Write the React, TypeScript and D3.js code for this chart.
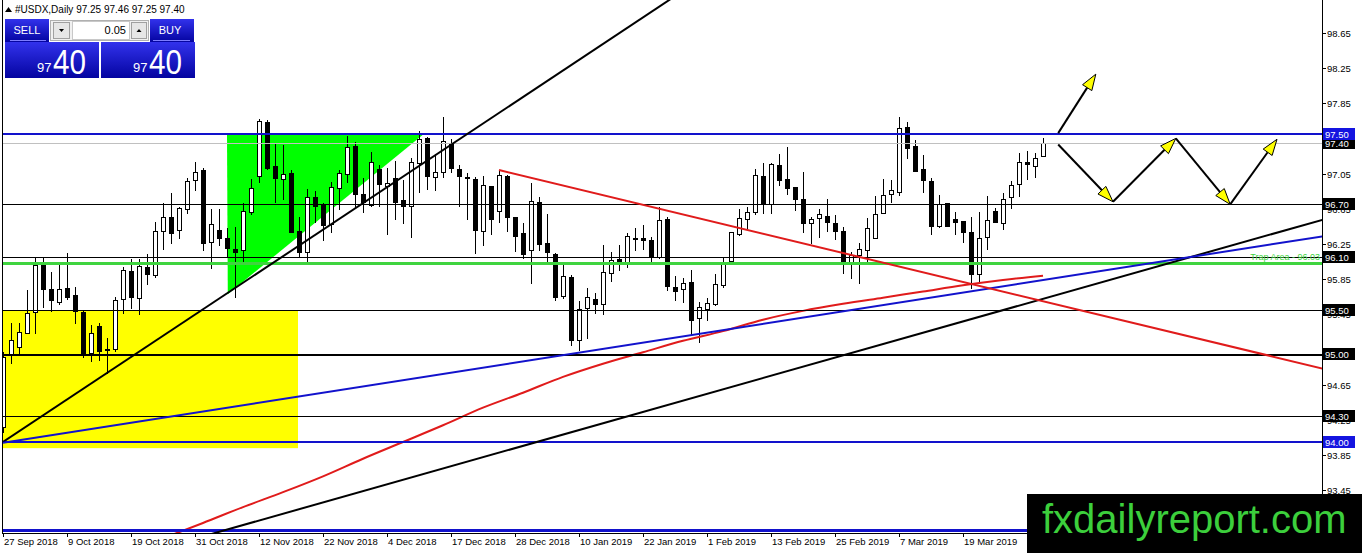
import React from "react";
import * as d3 from "d3";

// ---- data ----
const open = [
  94.17, 94.99, 95.08, 95.24, 95.48, 96.01, 95.74, 95.59, 95.75, 95.67,
  95.48, 95.01, 95.32, 95.06, 95.06, 95.63, 95.94, 95.64, 95.99, 95.9,
  96.4, 96.56, 96.41, 96.65, 96.98, 97.09, 96.27, 96.41, 96.32, 96.19,
  96.18, 96.61, 97.02, 97.64, 97.14, 96.99, 97.06, 96.4, 96.16, 96.78,
  96.7, 96.48, 96.89, 97.05, 97.36, 96.82, 96.69, 97.1, 96.91, 97.0,
  96.75, 96.68, 97.17, 97.45, 97.01, 97.07, 97.4, 97.1, 97.01, 96.99,
  96.4, 96.91, 96.63, 97.02, 96.56, 96.38, 96.18, 96.73, 96.26, 96.14,
  95.66, 95.88, 95.16, 95.52, 95.63, 95.57, 95.92, 96.08, 96.05, 96.32,
  96.32, 96.3, 96.1, 96.53, 95.76, 95.74, 95.82, 95.41, 95.51, 95.57,
  95.78, 96.06, 96.36, 96.53, 96.61, 97.02, 96.7, 97.15, 96.99, 96.9,
  96.76, 96.49, 96.55, 96.57, 96.49, 96.4, 96.03, 96.13, 96.18, 96.32,
  96.6, 96.82, 96.84, 97.58, 97.36, 97.1, 96.97, 96.45, 96.72, 96.53,
  96.51, 96.39, 95.91, 96.33, 96.63, 96.49, 96.78, 96.93, 97.18, 97.14,
  97.25,
];
const high = [
  95.02, 95.35, 95.35, 95.73, 96.09, 96.1, 95.93, 96.01, 96.15, 95.76,
  95.49, 95.33, 95.35, 95.18, 95.65, 95.99, 96.08, 96.08, 96.14, 96.5,
  96.72, 96.83, 96.67, 97.0, 97.18, 97.11, 96.65, 96.65, 96.43, 96.44,
  96.72, 96.99, 97.67, 97.66, 97.39, 97.37, 97.09, 96.56, 96.88, 96.85,
  96.72, 96.95, 97.09, 97.48, 97.41, 97.0, 97.3, 97.15, 97.11, 97.19,
  96.98, 97.23, 97.53, 97.47, 97.27, 97.69, 97.44, 97.15, 97.06, 97.01,
  97.02, 96.91, 97.09, 97.03, 96.56, 96.49, 96.94, 96.78, 96.59, 96.15,
  96.01, 95.9, 95.6, 95.75, 95.69, 96.24, 96.16, 96.24, 96.37, 96.43,
  96.47, 96.33, 96.67, 96.56, 95.89, 95.86, 95.95, 95.59, 95.64, 95.91,
  96.1, 96.39, 96.65, 96.67, 97.1, 97.17, 97.17, 97.27, 97.35, 96.9,
  97.07, 96.56, 96.65, 96.76, 96.58, 96.44, 96.16, 96.26, 96.55, 96.8,
  96.99, 96.98, 97.69, 97.64, 97.43, 97.26, 97.0, 96.81, 96.72, 96.61,
  96.51, 96.56, 96.61, 96.8, 96.66, 96.83, 96.97, 97.28, 97.31, 97.28,
  97.46,
];
const low = [
  94.11, 94.9, 95.01, 95.24, 95.24, 95.53, 95.49, 95.57, 95.63, 95.35,
  94.97, 94.92, 94.93, 94.78, 95.03, 95.47, 95.52, 95.45, 95.8, 95.87,
  96.19, 96.26, 96.32, 96.6, 96.86, 96.18, 95.98, 96.24, 96.1, 95.65,
  96.05, 96.59, 96.95, 97.1, 96.73, 96.76, 96.39, 96.1, 96.05, 96.5,
  96.3, 96.39, 96.65, 96.95, 96.66, 96.61, 96.68, 96.68, 96.36, 96.53,
  96.49, 96.33, 96.84, 96.87, 96.86, 97.01, 97.07, 96.68, 96.53, 96.15,
  96.24, 96.36, 96.5, 96.4, 96.17, 96.09, 95.81, 96.18, 96.05, 95.61,
  95.64, 95.1, 95.05, 95.18, 95.47, 95.45, 95.83, 95.95, 95.99, 96.18,
  96.19, 96.03, 96.09, 95.73, 95.61, 95.59, 95.23, 95.14, 95.39, 95.56,
  95.76, 96.03, 96.35, 96.43, 96.59, 96.6, 96.6, 96.92, 96.82, 96.64,
  96.39, 96.26, 96.33, 96.4, 96.31, 95.92, 95.86, 95.81, 96.05, 96.32,
  96.6, 96.73, 96.81, 97.23, 97.08, 96.84, 96.36, 96.44, 96.45, 96.36,
  96.27, 95.75, 95.81, 96.19, 96.5, 96.42, 96.66, 96.8, 96.99, 97.01,
  97.25,
];
const close = [
  94.97, 95.16, 95.25, 95.47, 96.01, 95.74, 95.61, 95.74, 95.65, 95.49,
  94.99, 95.24, 95.03, 95.05, 95.61, 95.95, 95.65, 96.0, 95.91, 96.4,
  96.56, 96.38, 96.66, 96.97, 97.07, 96.26, 96.48, 96.32, 96.2, 96.16,
  96.63, 96.89, 97.65, 97.11, 97.0, 97.05, 96.39, 96.16, 96.78, 96.68,
  96.47, 96.9, 97.06, 97.35, 96.82, 96.73, 97.18, 96.93, 96.94, 96.73,
  96.68, 97.18, 97.44, 97.02, 97.07, 97.42, 97.11, 97.02, 97.0, 96.41,
  96.92, 96.53, 97.03, 96.56, 96.34, 96.14, 96.74, 96.25, 96.16, 95.65,
  95.89, 95.16, 95.51, 95.65, 95.57, 95.93, 96.07, 96.05, 96.34, 96.31,
  96.3, 96.11, 96.52, 95.77, 95.72, 95.81, 95.39, 95.53, 95.58, 95.8,
  96.05, 96.39, 96.55, 96.61, 97.03, 96.7, 97.16, 96.98, 96.89, 96.76,
  96.49, 96.53, 96.59, 96.5, 96.4, 96.03, 96.13, 96.19, 96.43, 96.59,
  96.81, 96.86, 97.57, 97.34, 97.08, 96.98, 96.45, 96.7, 96.45, 96.5,
  96.39, 95.91, 96.32, 96.52, 96.5, 96.76, 96.92, 97.18, 97.16, 97.23,
  97.4,
];

// moving average, sampled at these bars
const maIndex = [21, 25, 30, 35, 40, 45, 50, 55, 60, 65, 70, 75, 80, 85, 90, 95, 100, 105, 110, 115, 120, 125, 130];
const maValue = [92.94, 93.08, 93.26, 93.43, 93.61, 93.81, 94.0, 94.19, 94.39, 94.56, 94.74, 94.89, 95.02, 95.15, 95.26, 95.39, 95.49, 95.57, 95.64, 95.71, 95.78, 95.84, 95.89];

const dateLabels = [
  "27 Sep 2018", "9 Oct 2018", "19 Oct 2018", "31 Oct 2018", "12 Nov 2018", "22 Nov 2018",
  "4 Dec 2018", "17 Dec 2018", "28 Dec 2018", "10 Jan 2019", "22 Jan 2019", "1 Feb 2019",
  "13 Feb 2019", "25 Feb 2019", "7 Mar 2019", "19 Mar 2019",
];
const dateIndex = [0, 8, 16, 24, 32, 40, 48, 56, 64, 72, 80, 88, 96, 104, 112, 120];

// visible scale labels (97.45, 95.05 and 93.05 sit under level boxes / the watermark)
const priceTicks = [98.65, 98.25, 97.85, 97.05, 96.65, 96.25, 95.85, 95.45, 94.65, 94.25, 93.85, 93.45];

const blueLevels = [97.5, 94.0, 93.0];
const blackLevels = [96.7, 96.1, 95.5, 95.0, 94.3];
const bidPrice = 97.4;
const trapLevel = 96.03;

// drawn objects as [bar, price]
const yellowBox = [[0, 95.49], [36.875, 93.93]];
const trapTriangle = [[28, 97.5], [52.6, 97.5], [28.1, 95.68]];
const blackTrendA = [[0, 94.0], [64, 97.86]];
const blackTrendB = [[30, 93.056], [130, 95.627]];
const blueTrend = [[0, 93.99], [130, 95.84]];
const redTrend = [[62, 97.09], [130, 95.6]];
const arrowUp = [[131.9, 97.51], [136.6, 98.18]];
const zigzag = [[131.9, 97.38], [138.75, 96.73], [146.6, 97.45], [153.4, 96.7], [159.25, 97.44]];

// ---- layout ----
const W = 1362;
const H = 553;
const plotRight = 1322;
const plotBottom = 533;
const font = "'Liberation Sans', Arial, sans-serif";

const x = d3.scaleLinear().domain([0, 130]).range([3, 1043]);
const y = d3.scaleLinear().domain([93, 97.5]).range([530, 134]);

const BLUE = "#1212cc";
const RED = "#e01b1b";
const GREEN_LINE = "#3fd43f";

function rayPoints(pts: number[][], fromBar: number, toBar: number) {
  const [[b1, p1], [b2, p2]] = pts;
  const at = (b: number) => p1 + ((p2 - p1) * (b - b1)) / (b2 - b1);
  return [
    [x(fromBar), y(at(fromBar))],
    [x(toBar), y(at(toBar))],
  ];
}

function Arrow({ a, b }: { a: number[]; b: number[] }) {
  const x1 = x(a[0]), y1 = y(a[1]), x2 = x(b[0]), y2 = y(b[1]);
  const ang = Math.atan2(y2 - y1, x2 - x1);
  const len = 16, half = 5.5;
  const bx = x2 - len * Math.cos(ang), by = y2 - len * Math.sin(ang);
  const nx = -Math.sin(ang) * half, ny = Math.cos(ang) * half;
  return (
    <g>
      <line x1={x1} y1={y1} x2={bx} y2={by} stroke="#000" strokeWidth={2} />
      <path
        d={`M${x2},${y2}L${bx + nx},${by + ny}L${bx - nx},${by - ny}Z`}
        fill="#ffff00"
        stroke="#000"
        strokeWidth={1}
      />
    </g>
  );
}

function PriceBox({ x0, label }: { x0: number; label: string }) {
  return (
    <g>
      <rect x={x0} y={42} width={94} height={36} fill="url(#panelGrad)" />
      <text x={x0 + 32} y={72} fontFamily={font} fontSize={13} fill="#fff">97</text>
      <text x={x0 + 48} y={74} fontFamily={font} fontSize={35} fill="#fff" textLength={33} lengthAdjust="spacingAndGlyphs">
        {label}
      </text>
    </g>
  );
}

const App = () => {
  const endBar = x.invert(plotRight + 5);
  const maLine = d3
    .line<number>()
    .x((d, i) => x(maIndex[i]))
    .y((d) => y(d))
    .curve(d3.curveMonotoneX);

  const lineStr = (pts: number[][]) => d3.line()(pts as [number, number][]) || "";

  const levelBox = (p: number, bg: string) => (
    <g key={"box" + p}>
      <rect x={1323} y={Math.round(y(p)) - 6} width={32} height={12} fill={bg} />
      <text x={1325} y={Math.round(y(p)) + 4} fontFamily={font} fontSize={9.5} fill="#fff">
        {p.toFixed(2)}
      </text>
    </g>
  );

  return (
    <svg
      width={W}
      height={H}
      style={{ position: "absolute", left: 0, top: 0, background: "#fff" }}
    >
      <defs>
        <clipPath id="plot">
          <rect x={3} y={0} width={plotRight - 3} height={plotBottom} />
        </clipPath>
        <linearGradient id="panelGrad" x1="0" y1="0" x2="0" y2="1">
          <stop offset="0" stopColor="#3232ec" />
          <stop offset="1" stopColor="#0404a0" />
        </linearGradient>
      </defs>

      <rect x={0} y={0} width={W} height={H} fill="#fff" />

      <g clipPath="url(#plot)">
        {/* background objects */}
        <rect
          x={x(yellowBox[0][0])}
          y={y(yellowBox[0][1])}
          width={x(yellowBox[1][0]) - x(yellowBox[0][0])}
          height={y(yellowBox[1][1]) - y(yellowBox[0][1])}
          fill="#ffff00"
        />
        <path
          d={lineStr(trapTriangle.map((d) => [x(d[0]), y(d[1])])) + "Z"}
          fill="#00ff00"
        />

        {/* candles */}
        <g shapeRendering="crispEdges">
          {open.map((o, i) => {
            const c = close[i];
            const cx = Math.round(x(i));
            const top = Math.round(y(Math.max(o, c)));
            const bot = Math.round(y(Math.min(o, c)));
            const bull = c >= o;
            return (
              <g key={i}>
                <line
                  x1={cx + 0.5}
                  x2={cx + 0.5}
                  y1={Math.round(y(high[i]))}
                  y2={Math.round(y(low[i])) + 1}
                  stroke="#000"
                />
                {bull ? (
                  <rect
                    x={cx - 1.5}
                    y={top + 0.5}
                    width={4}
                    height={Math.max(0, bot - top)}
                    fill="#fff"
                    stroke="#000"
                  />
                ) : (
                  <rect x={cx - 2} y={top} width={5} height={Math.max(1, bot - top + 1)} fill="#000" />
                )}
              </g>
            );
          })}
        </g>

        {/* moving average */}
        <path d={maLine(maValue) || ""} fill="none" stroke={RED} strokeWidth={2} />

        {/* horizontal levels */}
        <g shapeRendering="crispEdges">
          <line x1={0} x2={plotRight} y1={Math.round(y(bidPrice)) + 0.5} y2={Math.round(y(bidPrice)) + 0.5} stroke="#c0c0c0" />
          {blackLevels.map((p) => (
            <line
              key={p}
              x1={0}
              x2={plotRight}
              y1={Math.round(y(p)) + 0.5}
              y2={Math.round(y(p)) + 0.5}
              stroke="#000"
              strokeWidth={p === 95.0 ? 2 : 1}
            />
          ))}
          <line x1={0} x2={plotRight} y1={y(trapLevel)} y2={y(trapLevel)} stroke={GREEN_LINE} strokeWidth={3} />
          {blueLevels.map((p) => (
            <line
              key={p}
              x1={0}
              x2={plotRight}
              y1={Math.round(y(p))}
              y2={Math.round(y(p))}
              stroke={BLUE}
              strokeWidth={p === 93.0 ? 3 : 2}
            />
          ))}
        </g>
        <text x={1320} y={y(trapLevel) - 3} textAnchor="end" fontFamily={font} fontSize={9} fill={GREEN_LINE}>
          Trap Area - {trapLevel.toFixed(2)}
        </text>

        {/* trend lines */}
        <path d={lineStr(rayPoints(blackTrendA, 0, endBar))} stroke="#000" strokeWidth={2} fill="none" />
        <path d={lineStr(rayPoints(blackTrendB, 20, endBar))} stroke="#000" strokeWidth={2} fill="none" />
        <path d={lineStr(rayPoints(blueTrend, 0, endBar))} stroke={BLUE} strokeWidth={2} fill="none" />
        <path d={lineStr(rayPoints(redTrend, 62, endBar))} stroke={RED} strokeWidth={2} fill="none" />

        {/* arrows */}
        <Arrow a={arrowUp[0]} b={arrowUp[1]} />
        {zigzag.slice(1).map((d, i) => (
          <Arrow key={i} a={zigzag[i]} b={d} />
        ))}
      </g>

      {/* frame */}
      <g shapeRendering="crispEdges" stroke="#000">
        <line x1={2.5} x2={2.5} y1={0} y2={plotBottom} />
        <line x1={plotRight + 0.5} x2={plotRight + 0.5} y1={0} y2={plotBottom + 1} />
        <line x1={2} x2={plotRight} y1={plotBottom + 0.5} y2={plotBottom + 0.5} />
      </g>

      {/* price axis */}
      <g fontFamily={font} fontSize={9.5} fill="#000">
        {priceTicks.map((p) => (
          <g key={p}>
            <line x1={plotRight} x2={plotRight + 4} y1={Math.round(y(p)) + 0.5} y2={Math.round(y(p)) + 0.5} stroke="#000" />
            <text x={1327} y={Math.round(y(p)) + 4}>{p.toFixed(2)}</text>
          </g>
        ))}
      </g>
      {blackLevels.map((p) => levelBox(p, "#000"))}
      {levelBox(bidPrice, "#000")}
      {blueLevels.filter((p) => y(p) < 490).map((p) => levelBox(p, "#1414e0"))}

      {/* time axis */}
      <g fontFamily={font} fontSize={9.5} fill="#000">
        {dateIndex.map((b, k) => (
          <g key={b}>
            <line x1={Math.round(x(b)) + 0.5} x2={Math.round(x(b)) + 0.5} y1={plotBottom} y2={plotBottom + 4} stroke="#000" />
            <text x={Math.round(x(b)) + 1} y={545}>{dateLabels[k]}</text>
          </g>
        ))}
      </g>

      {/* header */}
      <path d="M5,12L8.5,7L12,12Z" fill="#000" />
      <text x={15} y={13} fontFamily={font} fontSize={10} fill="#000">
        #USDX,Daily  97.25 97.46 97.25 97.40
      </text>

      {/* one-click trading panel */}
      <g>
        <rect x={5} y={19} width={44} height={23} fill="url(#panelGrad)" />
        <line x1={10} x2={46} y1={40.5} y2={40.5} stroke="#7c7cff" />
        <text x={27} y={34} textAnchor="middle" fontFamily={font} fontSize={11} fill="#fff">SELL</text>
        <rect x={150} y={19} width={44} height={23} fill="url(#panelGrad)" />
        <line x1={153} x2={190} y1={40.5} y2={40.5} stroke="#7c7cff" />
        <text x={170} y={34} textAnchor="middle" fontFamily={font} fontSize={11} fill="#fff">BUY</text>

        <rect x={50.5} y={20.5} width={98} height={20} fill="#f0f0f0" stroke="#b0b0b0" />
        <rect x={53.5} y={22.5} width={16} height={16} fill="#e6e6e6" stroke="#a0a0a0" />
        <path d="M59,29L64,29L61.5,32Z" fill="#000" />
        <rect x={72.5} y={21.5} width={57} height={18} fill="#fff" stroke="#c8c8c8" />
        <text x={126} y={34} textAnchor="end" fontFamily={font} fontSize={11} fill="#000">0.05</text>
        <rect x={131.5} y={22.5} width={15} height={16} fill="#e6e6e6" stroke="#a0a0a0" />
        <path d="M136.5,32L141.5,32L139,29Z" fill="#000" />

        <PriceBox x0={5} label="40" />
        <PriceBox x0={101} label="40" />
      </g>

      {/* watermark */}
      <rect x={1027} y={494} width={W - 1027} height={H - 494} fill="#000" />
      <text x={1042} y={533} fontFamily={font} fontSize={40} fill="#3ccf3c">
        fxdailyreport.com
      </text>
    </svg>
  );
};

export default App;
